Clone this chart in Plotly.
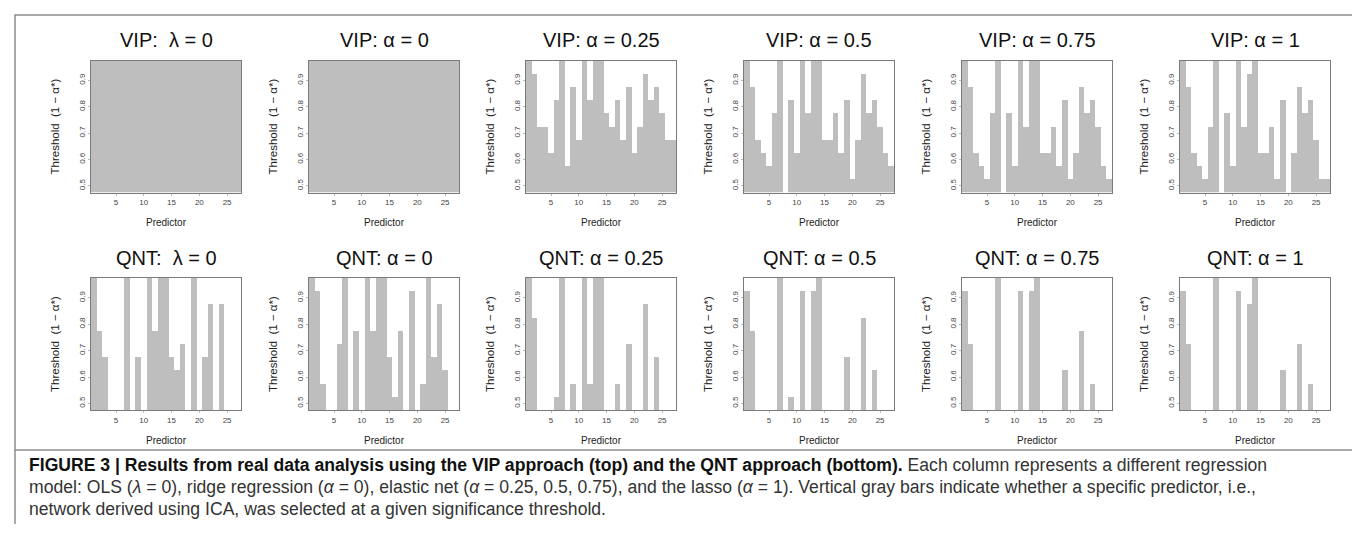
import plotly.graph_objects as go

# ---------------- data ----------------
predictors = list(range(1, 28))
thresholds = [0.5, 0.55, 0.6, 0.65, 0.7, 0.75, 0.8, 0.85, 0.9, 0.95]
x_ticks = [5, 10, 15, 20, 25]
y_ticks = [0.5, 0.6, 0.7, 0.8, 0.9]
y_tick_labels = ["0.5", "0.6", "0.7", "0.8", "0.9"]

# highest threshold (1 - alpha*) at which each predictor was selected (None = never)
vip_ols = [0.95, 0.95, 0.95, 0.95, 0.95, 0.95, 0.95, 0.95, 0.95, 0.95, 0.95, 0.95, 0.95, 0.95,
           0.95, 0.95, 0.95, 0.95, 0.95, 0.95, 0.95, 0.95, 0.95, 0.95, 0.95, 0.95, 0.95]
vip_a0 = [0.95, 0.95, 0.95, 0.95, 0.95, 0.95, 0.95, 0.95, 0.95, 0.95, 0.95, 0.95, 0.95, 0.95,
          0.95, 0.95, 0.95, 0.95, 0.95, 0.95, 0.95, 0.95, 0.95, 0.95, 0.95, 0.95, 0.95]
vip_a025 = [0.95, 0.9, 0.7, 0.7, 0.6, 0.8, 0.95, 0.55, 0.85, 0.65, 0.95, 0.8, 0.95, 0.95,
            0.75, 0.7, 0.8, 0.65, 0.85, 0.6, 0.7, 0.9, 0.8, 0.85, 0.75, 0.65, 0.65]
vip_a05 = [0.95, 0.85, 0.65, 0.6, 0.55, 0.75, 0.95, None, 0.8, 0.6, 0.95, 0.75, 0.95, 0.95,
           0.65, 0.65, 0.75, 0.6, 0.8, 0.5, 0.65, 0.9, 0.75, 0.8, 0.7, 0.6, 0.55]
vip_a075 = [0.95, 0.85, 0.6, 0.55, 0.5, 0.75, 0.95, None, 0.75, 0.55, 0.95, 0.7, 0.95, 0.95,
            0.6, 0.6, 0.7, 0.55, 0.8, 0.5, 0.6, 0.85, 0.75, 0.8, 0.7, 0.55, 0.5]
vip_a1 = [0.95, 0.85, 0.6, 0.55, 0.5, 0.7, 0.95, None, 0.75, 0.55, 0.95, 0.7, 0.9, 0.95,
          0.6, 0.6, 0.7, 0.5, 0.8, None, 0.6, 0.85, 0.75, 0.8, 0.65, 0.5, 0.5]

qnt_ols = [0.95, 0.75, 0.65, None, None, None, 0.95, None, 0.65, None, 0.95, 0.75, 0.95, 0.95,
           0.65, 0.6, 0.7, None, 0.95, None, 0.65, 0.85, None, 0.85, None, None, None]
qnt_a0 = [0.95, 0.9, 0.55, None, None, 0.7, 0.95, None, 0.75, None, 0.95, 0.75, 0.95, 0.95,
          0.65, 0.5, 0.75, None, 0.9, None, 0.55, 0.95, 0.65, 0.85, 0.6, None, None]
qnt_a025 = [0.95, 0.8, None, None, None, 0.5, 0.95, None, 0.55, None, 0.95, 0.55, 0.95, 0.95,
            None, None, 0.55, None, 0.7, None, None, 0.85, None, 0.65, None, None, None]
qnt_a05 = [0.9, 0.75, None, None, None, None, 0.95, None, 0.5, None, 0.9, None, 0.9, 0.95,
           None, None, None, None, 0.65, None, None, 0.8, None, 0.6, None, None, None]
qnt_a075 = [0.9, 0.7, None, None, None, None, 0.95, None, None, None, 0.9, None, 0.9, 0.95,
            None, None, None, None, 0.6, None, None, 0.75, None, 0.55, None, None, None]
qnt_a1 = [0.9, 0.7, None, None, None, None, 0.95, None, None, None, 0.9, None, 0.85, 0.95,
          None, None, None, None, 0.6, None, None, 0.7, None, 0.55, None, None, None]

panel_titles = [
    "VIP:  λ = 0", "VIP: α = 0", "VIP: α = 0.25", "VIP: α = 0.5", "VIP: α = 0.75", "VIP: α = 1",
    "QNT:  λ = 0", "QNT: α = 0", "QNT: α = 0.25", "QNT: α = 0.5", "QNT: α = 0.75", "QNT: α = 1",
]
panel_series = [vip_ols, vip_a0, vip_a025, vip_a05, vip_a075, vip_a1,
                qnt_ols, qnt_a0, qnt_a025, qnt_a05, qnt_a075, qnt_a1]

caption_lines = [
    "<span style='color:#111'><b>FIGURE 3 | Results from real data analysis using the VIP approach (top) "
    "and the QNT approach (bottom).</b></span> Each column represents a different regression",
    "model: OLS (<i>λ</i> = 0), ridge regression (<i>α</i> = 0), elastic net (<i>α</i> = 0.25, 0.5, 0.75), "
    "and the lasso (<i>α</i> = 1). Vertical gray bars indicate whether a specific predictor, i.e.,",
    "network derived using ICA, was selected at a given significance threshold.",
]

# ---------------- layout geometry (pixels) ----------------
W, H = 1360, 554
col_left = [83, 301, 518, 736, 954, 1172]
plot_w = 150
row_top = [52.5, 270]
plot_h = 132
FONT = "Liberation Sans, Arial, sans-serif"
BAR = "#BEBEBE"
FRAME = "#7a7a7a"


def px_x(x):
    return x / W


def px_y(y):
    return 1 - y / H


fig = go.Figure()
annotations = []
for i, (title, series) in enumerate(zip(panel_titles, panel_series)):
    r, c = divmod(i, 6)
    n = i + 1
    xa = "x" if n == 1 else f"x{n}"
    ya = "y" if n == 1 else f"y{n}"
    z = [[1 if (v is not None and v >= t - 1e-9) else None for v in series] for t in thresholds]
    fig.add_trace(go.Heatmap(
        x=predictors, y=thresholds, z=z, xaxis=xa, yaxis=ya,
        colorscale=[[0, BAR], [1, BAR]], zmin=0, zmax=1, showscale=False,
        hoverinfo="skip", xgap=0, ygap=0,
    ))
    x0 = col_left[c]
    y0 = row_top[r]
    xdom = [px_x(x0), px_x(x0 + plot_w)]
    ydom = [px_y(y0 + plot_h), px_y(y0)]
    fig.layout["xaxis" if n == 1 else f"xaxis{n}"] = dict(
        domain=xdom, anchor=ya, range=[0.5, 27.5], tickvals=x_ticks,
        showline=True, mirror=True, linecolor=FRAME, linewidth=1,
        ticks="outside", ticklen=2, tickcolor="#bbbbbb", showgrid=False, zeroline=False,
        tickfont=dict(family=FONT, size=8, color="#444"), fixedrange=True,
    )
    fig.layout["yaxis" if n == 1 else f"yaxis{n}"] = dict(
        domain=ydom, anchor=xa, range=[0.475, 0.975], tickvals=y_ticks, ticktext=y_tick_labels,
        tickangle=-90, showline=True, mirror=True, linecolor=FRAME, linewidth=1,
        ticks="outside", ticklen=2, tickcolor="#bbbbbb", showgrid=False, zeroline=False,
        tickfont=dict(family=FONT, size=8, color="#444"), fixedrange=True,
    )
    cx = x0 + plot_w / 2
    annotations.append(dict(
        text=title, x=px_x(cx), y=px_y(y0 - 20), xref="paper", yref="paper",
        xanchor="center", yanchor="middle", showarrow=False,
        font=dict(family=FONT, size=20, color="#111"),
    ))
    annotations.append(dict(
        text="Predictor", x=px_x(cx), y=px_y(y0 + plot_h + 30), xref="paper", yref="paper",
        xanchor="center", yanchor="middle", showarrow=False,
        font=dict(family=FONT, size=10, color="#222"),
    ))
    annotations.append(dict(
        text="Threshold  (1 − α*)", x=px_x(x0 - 36), y=px_y(y0 + plot_h / 2),
        xref="paper", yref="paper", xanchor="center", yanchor="middle", textangle=-90,
        showarrow=False, font=dict(family=FONT, size=11.5, color="#222"),
    ))

cap_y = [457, 479, 501]
for line, y in zip(caption_lines, cap_y):
    annotations.append(dict(
        text=line, x=px_x(19), y=px_y(y), xref="paper", yref="paper",
        xanchor="left", yanchor="middle", showarrow=False,
        font=dict(family=FONT, size=17.6, color="#333"),
    ))

shapes = [
    dict(type="rect", xref="paper", yref="paper", x0=px_x(7), x1=px_x(1352), y0=px_y(442), y1=px_y(7),
         line=dict(color="#8c8c8c", width=1.5)),
    dict(type="line", xref="paper", yref="paper", x0=px_x(7), x1=px_x(7), y0=px_y(516), y1=px_y(442),
         line=dict(color="#8c8c8c", width=1.5)),
]

fig.update_layout(
    width=W, height=H, margin=dict(l=0, r=0, t=0, b=0),
    paper_bgcolor="white", plot_bgcolor="white", showlegend=False,
    annotations=annotations, shapes=shapes,
)

fig.write_html("out.html")
